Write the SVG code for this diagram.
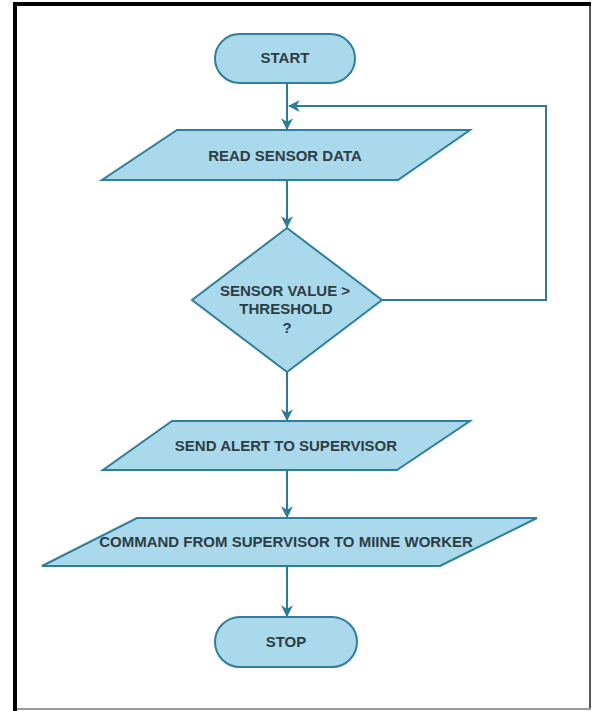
<svg xmlns="http://www.w3.org/2000/svg" width="592" height="711" viewBox="0 0 592 711">
<style>
.shape{fill:#aad9ec;stroke:#2f7f9c;stroke-width:2}
.lbl{font-family:"Liberation Sans",Arial,sans-serif;font-weight:bold;font-size:15px;fill:#2e3d44;text-anchor:middle}
.conn{fill:none;stroke:#2b7b9b;stroke-width:2}
</style>
<defs>
<marker id="ah" viewBox="0 0 10 10" refX="9" refY="5" markerWidth="12" markerHeight="12" markerUnits="userSpaceOnUse" orient="auto">
<path d="M0,0 L10,5 L0,10 L3,5 Z" fill="#2b7b9b"/>
</marker>
</defs>
<rect x="0" y="0" width="592" height="711" fill="#ffffff"/>
<g id="frame">
<line x1="13" y1="4" x2="591" y2="4" stroke="#000" stroke-width="4"/>
<line x1="15" y1="2" x2="15" y2="711" stroke="#000" stroke-width="4"/>
<line x1="590" y1="6" x2="590" y2="709" stroke="#555" stroke-width="2"/>
<line x1="17" y1="709" x2="591" y2="709" stroke="#999" stroke-width="2"/>
</g>
<g id="connectors">
<line class="conn" x1="287" y1="83" x2="287" y2="129" marker-end="url(#ah)"/>
<polyline class="conn" points="382,300 546,300 546,106 289,106" marker-end="url(#ah)"/>
<line class="conn" x1="287" y1="180" x2="287" y2="227" marker-end="url(#ah)"/>
<line class="conn" x1="287" y1="372" x2="287" y2="420" marker-end="url(#ah)"/>
<line class="conn" x1="287" y1="470" x2="287" y2="517" marker-end="url(#ah)"/>
<line class="conn" x1="287" y1="566" x2="287" y2="616" marker-end="url(#ah)"/>
</g>
<g id="start">
<rect class="shape" x="215" y="34" width="140" height="49" rx="24.5"/>
<text class="lbl" x="285" y="63">START</text>
</g>
<g id="read">
<polygon class="shape" points="177,130 470,130 398,180 102,180"/>
<text class="lbl" x="285" y="161">READ SENSOR DATA</text>
</g>
<g id="decision">
<polygon class="shape" points="287,228 382,300 287,372 192,300"/>
<text class="lbl" x="285" y="296">SENSOR VALUE &gt;</text>
<text class="lbl" x="286" y="314">THRESHOLD</text>
<text class="lbl" x="287" y="333">?</text>
</g>
<g id="alert">
<polygon class="shape" points="172,421 470,421 397,470 103,470"/>
<text class="lbl" x="286" y="451">SEND ALERT TO SUPERVISOR</text>
</g>
<g id="command">
<polygon class="shape" points="137,518 537,518 440,566 42,566"/>
<text class="lbl" x="286" y="547">COMMAND FROM SUPERVISOR TO MIINE WORKER</text>
</g>
<g id="stop">
<rect class="shape" x="215" y="617" width="142" height="50" rx="25"/>
<text class="lbl" x="286" y="647">STOP</text>
</g>
</svg>
